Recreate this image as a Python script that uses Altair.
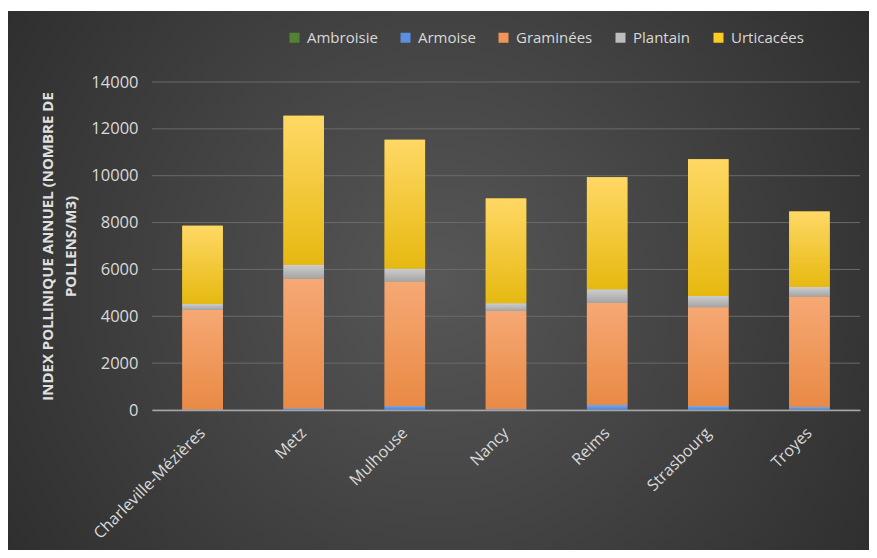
import altair as alt
import pandas as pd

cities = ["Charleville-Mézières", "Metz", "Mulhouse", "Nancy", "Reims", "Strasbourg", "Troyes"]
series = ["Ambroisie", "Armoise", "Graminées", "Plantain", "Urticacées"]
ambroisie = [5, 10, 15, 5, 10, 10, 10]
armoise = [20, 60, 160, 40, 210, 160, 120]
graminees = [4245, 5520, 5305, 4185, 4350, 4215, 4710]
plantain = [260, 615, 555, 325, 580, 485, 410]
urticacees = [3330, 6355, 5495, 4470, 4785, 5835, 3220]
y_ticks = [0, 2000, 4000, 6000, 8000, 10000, 12000, 14000]

values_by_series = [ambroisie, armoise, graminees, plantain, urticacees]
rows = []
for si, (s, vals) in enumerate(zip(series, values_by_series)):
    for c, v in zip(cities, vals):
        rows.append({"city": c, "type": s, "value": v, "order": si})
df = pd.DataFrame(rows)
grid_df = pd.DataFrame({"tick": y_ticks})

flat_colors = ["#548235", "#5B8FE0", "#F0955A", "#BDBDBD", "#FCCB22"]
grad_stops = {
    "Ambroisie": ("#6DA544", "#4E7F2E"),
    "Armoise": ("#7AA8EC", "#4F83D1"),
    "Graminées": ("#F6A874", "#E98A45"),
    "Plantain": ("#CDCDCD", "#A4A4A4"),
    "Urticacées": ("#FFD865", "#E6B910"),
}

W, H = 708, 328
PL, PT, PR, PB = 144, 74, 9, 140

yscale = alt.Scale(domain=[0, 14000], nice=False)
xscale = alt.Scale(paddingInner=0.6, paddingOuter=0.3)

yaxis = alt.Axis(
    values=y_ticks,
    title=["INDEX POLLINIQUE ANNUEL (NOMBRE DE", "POLLENS/M3)"],
    titleFontSize=15,
    titleFontWeight="bold",
    titleColor="#E0E0E0",
    titleLineHeight=23,
    titleAngle=-90,
    titleX=-105,
    titleY=H / 2,
    titleAlign="center",
    titleBaseline="middle",
    labelFontSize=16.5,
    labelColor="#D9D9D9",
    labelPadding=14,
    ticks=False,
    tickSize=0,
    domain=False,
    grid=False,
    format="d",
    zindex=1,
)

bg = alt.Chart(pd.DataFrame({"a": [0]})).mark_rect(
    fill={
        "gradient": "radial",
        "x1": 0.5, "y1": 0.5, "r1": 0,
        "x2": 0.5, "y2": 0.5, "r2": 0.72,
        "stops": [
            {"offset": 0, "color": "#575757"},
            {"offset": 1, "color": "#262626"},
        ],
    }
).encode(
    x=alt.value(-PL),
    x2=alt.value(W + PR),
    y=alt.value(-PT + 3),
    y2=alt.value(H + PB),
)

grid = alt.Chart(grid_df).mark_rule(color="#6A6A6A", strokeWidth=1).encode(
    y=alt.Y("tick:Q", scale=yscale, axis=yaxis),
    x=alt.value(0),
    x2=alt.value(W),
)

xenc = alt.X(
    "city:N",
    sort=cities,
    scale=xscale,
    axis=alt.Axis(
        title=None,
        labelAngle=-45,
        labelAlign="right",
        labelBaseline="middle",
        labelPadding=20,
        labelFontSize=16,
        labelColor="#D9D9D9",
        ticks=False,
        tickSize=0,
        domain=True,
        domainColor="#A6A6A6",
        domainWidth=1.5,
        grid=False,
        zindex=1,
    ),
)

base = alt.Chart(df).transform_stack(
    stack="value", groupby=["city"], as_=["y0", "y1"], sort=[alt.SortField("order", "ascending")]
)

bars = base.mark_bar().encode(
    x=xenc,
    y=alt.Y("y0:Q", scale=yscale, axis=yaxis),
    y2="y1:Q",
    color=alt.Color(
        "type:N",
        sort=series,
        scale=alt.Scale(domain=series, range=flat_colors),
        legend=alt.Legend(
            title=None,
            orient="none",
            direction="horizontal",
            legendX=135,
            legendY=-52,
            symbolType="square",
            symbolSize=100,
            symbolStrokeWidth=0,
            labelFontSize=15,
            labelColor="#D9D9D9",
            labelOffset=5,
            columnPadding=20,
            padding=0,
        ),
    ),
    order=alt.Order("order:Q"),
)

overlays = []
for s in series:
    top, bot = grad_stops[s]
    overlays.append(
        base.transform_filter(alt.datum.type == s).mark_bar(
            fill={
                "gradient": "linear",
                "x1": 0, "y1": 0, "x2": 0, "y2": 1,
                "stops": [
                    {"offset": 0, "color": top},
                    {"offset": 1, "color": bot},
                ],
            }
        ).encode(
            x=alt.X("city:N", sort=cities, scale=xscale),
            y=alt.Y("y0:Q", scale=yscale),
            y2="y1:Q",
        )
    )

chart = alt.layer(bg, grid, bars, *overlays).properties(
    width=W,
    height=H,
    padding={"left": PL, "top": PT, "right": PR, "bottom": PB},
    autosize=alt.AutoSizeParams(type="none"),
    background="white",
).configure(font="Open Sans").configure_view(stroke=None)

chart.save("out.html", embed_options={"renderer": "svg", "actions": False})
